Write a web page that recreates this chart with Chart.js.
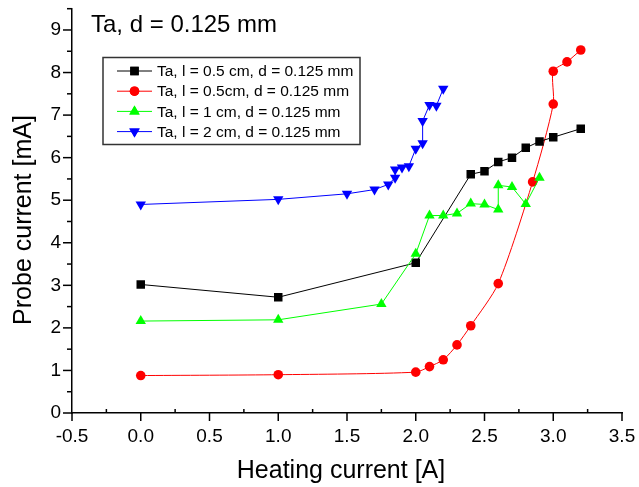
<!DOCTYPE html>
<html><head><meta charset="utf-8">
<script src="https://cdn.jsdelivr.net/npm/chart.js@4.4.1/dist/chart.umd.min.js"></script>
<style>html,body{margin:0;padding:0;background:#fff}#wrap{width:639px;height:487px;position:relative}canvas{display:block}</style>
</head><body><div id="wrap"><canvas id="c" width="639" height="487"></canvas></div>
<script>
const chartTitle = 'Ta, d = 0.125 mm';
const xTitle = 'Heating current [A]';
const yTitle = 'Probe current [mA]';
const seriesLabels = ['Ta, l = 0.5 cm, d = 0.125 mm','Ta, l = 0.5cm, d = 0.125 mm','Ta, l = 1 cm, d = 0.125 mm','Ta, l = 2 cm, d = 0.125 mm'];
const blackX = [0,1,2,2.4,2.5,2.6,2.7,2.8,2.9,3.0,3.2];
const blackY = [3.02,2.72,3.53,5.61,5.68,5.9,6.0,6.23,6.38,6.48,6.68];
const redX = [0,1,2,2.1,2.2,2.3,2.4,2.6,2.85,3.0,3.0,3.1,3.2];
const redY = [0.88,0.9,0.96,1.09,1.25,1.6,2.05,3.04,5.43,7.26,8.03,8.25,8.53];
const greenX = [0,1,1.75,2.0,2.1,2.2,2.3,2.4,2.5,2.6,2.6,2.7,2.8,2.9];
const greenY = [2.16,2.19,2.56,3.74,4.64,4.64,4.69,4.92,4.9,4.78,5.35,5.31,4.91,5.53];
const blueX = [0,1,1.5,1.7,1.8,1.85,1.85,1.9,1.95,2.0,2.05,2.05,2.1,2.15,2.2];
const blueY = [4.9,5.02,5.15,5.25,5.37,5.53,5.72,5.77,5.8,6.21,6.34,6.86,7.24,7.22,7.62];
const xTickValues = [-0.5,0,0.5,1,1.5,2,2.5,3,3.5];
const yTickValues = [0,1,2,3,4,5,6,7,8,9];

const FONT = "'Liberation Sans', Arial, sans-serif";
const mk = (xs, ys) => xs.map((x, i) => ({x: x, y: ys[i]}));
const colors = ['#000000', '#ff0000', '#00ff00', '#0000ff'];
const styles = [
  {pointStyle: 'rect', radius: 6, rotation: 0},
  {pointStyle: 'circle', radius: 4.8, rotation: 0},
  {pointStyle: 'triangle', radius: 6, rotation: 0},
  {pointStyle: 'triangle', radius: 6, rotation: 180}
];
const seriesData = [mk(blackX, blackY), mk(redX, redY), mk(greenX, greenY), mk(blueX, blueY)];
const drawOrder = [1, 3, 0, 2];

const datasets = seriesData.map((d, i) => ({
  label: seriesLabels[i],
  data: d,
  showLine: true,
  borderColor: colors[i],
  backgroundColor: colors[i],
  borderWidth: 1,
  tension: i === 1 ? 0.25 : 0,
  pointStyle: styles[i].pointStyle,
  pointRadius: styles[i].radius,
  pointHoverRadius: styles[i].radius,
  pointRotation: styles[i].rotation,
  pointBorderWidth: 0,
  pointBackgroundColor: colors[i],
  order: drawOrder[i]
}));

const decor = {
  id: 'decor',
  afterDraw(chart) {
    const ctx = chart.ctx;
    const xs = chart.scales.x, ys = chart.scales.y;
    const ca = chart.chartArea;
    ctx.save();
    ctx.strokeStyle = '#000';
    ctx.lineWidth = 1.5;
    for (let k = 0; k <= 16; k++) {
      const v = -0.5 + k * 0.25;
      const px = xs.getPixelForValue(v);
      ctx.beginPath();
      if (k % 2 === 0) { ctx.moveTo(px, ca.bottom); ctx.lineTo(px, ca.bottom + 8); }
      else { ctx.moveTo(px, ca.bottom); ctx.lineTo(px, ca.bottom - 4); }
      ctx.stroke();
    }
    for (let k = 0; k <= 19; k++) {
      const v = k * 0.5;
      const py = ys.getPixelForValue(v);
      ctx.beginPath();
      const len = (k % 2 === 0) ? 9 : 5;
      ctx.moveTo(ca.left - len, py); ctx.lineTo(ca.left, py);
      ctx.stroke();
    }
    ctx.fillStyle = '#000';
    ctx.font = '25px ' + FONT;
    ctx.textAlign = 'center';
    ctx.textBaseline = 'alphabetic';
    ctx.fillText(xTitle, 341, 478);
    ctx.save();
    ctx.translate(31, 220);
    ctx.rotate(-Math.PI / 2);
    ctx.font = '25px ' + FONT;
    ctx.fillText(yTitle, 0, 0);
    ctx.restore();
    ctx.textAlign = 'left';
    ctx.font = '24px ' + FONT;
    ctx.fillText(chartTitle, 91, 32);
    ctx.strokeStyle = '#333';
    ctx.lineWidth = 1.5;
    ctx.strokeRect(103, 57.5, 257, 87);
    ctx.font = '15.5px ' + FONT;
    ctx.textBaseline = 'middle';
    for (let i = 0; i < 4; i++) {
      const yy = 71 + i * 20.2;
      ctx.strokeStyle = colors[i];
      ctx.lineWidth = 1;
      ctx.beginPath(); ctx.moveTo(117, yy); ctx.lineTo(152, yy); ctx.stroke();
      ctx.fillStyle = colors[i];
      Chart.helpers.drawPoint(ctx, {pointStyle: styles[i].pointStyle, radius: styles[i].radius, rotation: styles[i].rotation, borderWidth: 0}, 134.5, yy);
      ctx.fill();
      ctx.fillStyle = '#000';
      ctx.fillText(seriesLabels[i], 157, yy + 1);
    }
    ctx.restore();
  }
};

new Chart(document.getElementById('c'), {
  type: 'scatter',
  data: {datasets: datasets},
  options: {
    responsive: false,
    animation: false,
    devicePixelRatio: 1,
    layout: {padding: {top: 8.7, right: 17, left: 0, bottom: 0}},
    plugins: {legend: {display: false}, tooltip: {enabled: false}, title: {display: false}},
    scales: {
      x: {
        type: 'linear', min: -0.5, max: 3.5,
        grid: {display: false, drawTicks: false},
        border: {display: true, color: '#000', width: 1.5},
        afterBuildTicks: s => { s.ticks = xTickValues.map(v => ({value: v})); },
        ticks: {color: '#000', font: {family: FONT, size: 19}, padding: 12, maxRotation: 0, autoSkip: false,
                callback: v => v.toFixed(1)},
        afterFit: s => { s.height = 74; s.paddingLeft = 0; s.paddingRight = 0; }
      },
      y: {
        type: 'linear', min: 0, max: 9.5,
        grid: {display: false, drawTicks: false},
        border: {display: true, color: '#000', width: 1.5},
        afterBuildTicks: s => { s.ticks = yTickValues.map(v => ({value: v})); },
        ticks: {color: '#000', font: {family: FONT, size: 19}, padding: 11, autoSkip: false,
                callback: v => String(v)},
        afterFit: s => { s.width = 72; s.paddingTop = 0; s.paddingBottom = 0; }
      }
    }
  },
  plugins: [decor]
});
</script>
</body></html>
